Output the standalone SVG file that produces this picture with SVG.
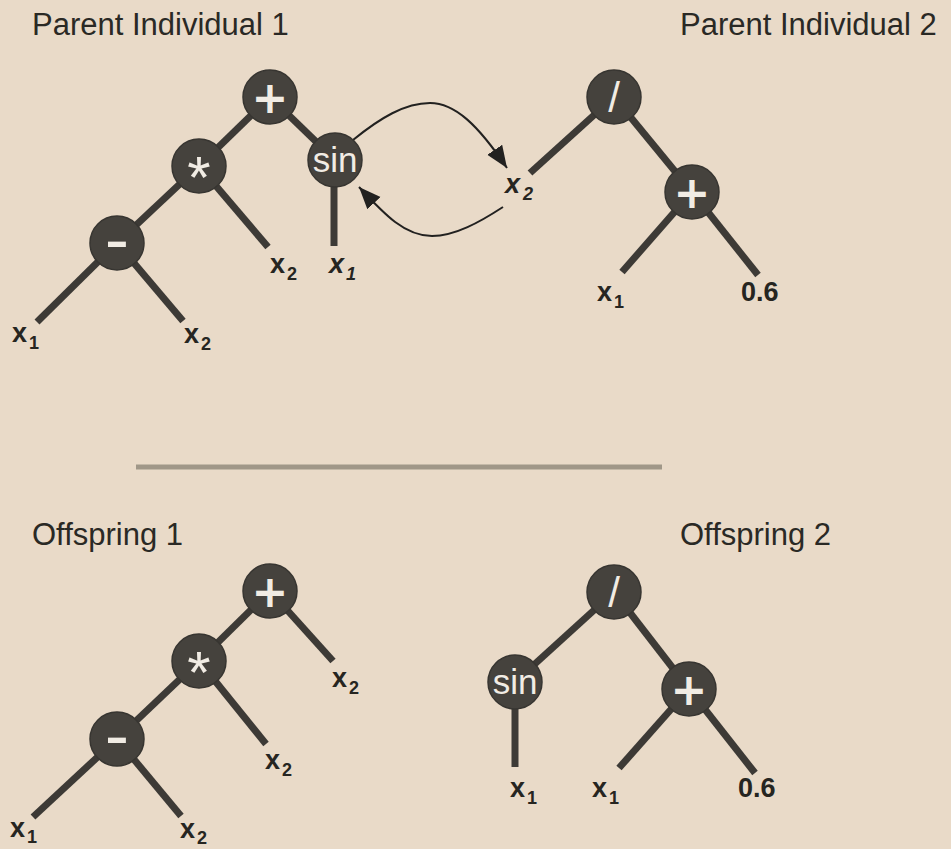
<svg xmlns="http://www.w3.org/2000/svg" width="951" height="849" viewBox="0 0 951 849">
  <defs>
    <marker id="arrowhead" markerUnits="userSpaceOnUse" markerWidth="24" markerHeight="20" refX="22" refY="9" orient="auto">
      <path d="M0,0 L22,9 L0,18 z" fill="#222120"/>
    </marker>
  </defs>
  <style>
    .title { font-family: "Liberation Sans", Arial, sans-serif; font-size: 31px; fill: #2a2925; }
    .edge { stroke: #3d3a36; stroke-width: 7; stroke-linecap: butt; fill: none; }
    .swap { stroke: #222120; stroke-width: 2; fill: none; marker-end: url(#arrowhead); }
    .divider { stroke: #a09788; stroke-width: 5; }
    .op { fill: #45423d; stroke: #373531; stroke-width: 1.5; }
    .sym { fill: #f1ece4; text-anchor: middle; }
    .plus { font-family: "DejaVu Sans", sans-serif; font-weight: bold; font-size: 44px; }
    .star { font-family: "Liberation Sans", Arial, sans-serif; font-size: 60px; }
    .slash { font-family: "Liberation Sans", Arial, sans-serif; font-size: 42px; }
    .minus { font-family: "Liberation Sans", Arial, sans-serif; font-weight: bold; font-size: 44px; }
    .sin { font-family: "Liberation Sans", Arial, sans-serif; font-size: 35px; }
    .leaf { font-family: "Liberation Sans", Arial, sans-serif; font-weight: bold; font-size: 27px; fill: #262521; }
    .leaf .sub { font-size: 18px; }
    .ital { font-style: italic; }
  </style>

  <rect width="951" height="849" fill="#e9dac8"/>

  <!-- section titles -->
  <text class="title" x="32" y="35">Parent Individual 1</text>
  <text class="title" x="680" y="35">Parent Individual 2</text>
  <text class="title" x="32" y="545">Offspring 1</text>
  <text class="title" x="680" y="545">Offspring 2</text>

  <!-- separator between parents and offspring -->
  <line class="divider" x1="136" y1="467" x2="662" y2="467"/>

  <!-- tree branches and swap arrows -->
  <g id="connectors">
    <!-- parent 1 -->
    <line class="edge" x1="270" y1="97" x2="199" y2="166"/>
    <line class="edge" x1="270" y1="97" x2="335" y2="160"/>
    <line class="edge" x1="199" y1="166" x2="117" y2="243"/>
    <line class="edge" x1="199" y1="166" x2="268" y2="247"/>
    <line class="edge" x1="334" y1="160" x2="334" y2="246"/>
    <line class="edge" x1="117" y1="243" x2="37" y2="322"/>
    <line class="edge" x1="117" y1="243" x2="183" y2="321"/>
    <!-- parent 2 -->
    <line class="edge" x1="614" y1="97" x2="530" y2="173"/>
    <line class="edge" x1="614" y1="97" x2="692" y2="192"/>
    <line class="edge" x1="692" y1="192" x2="622" y2="272"/>
    <line class="edge" x1="692" y1="192" x2="758" y2="275"/>
    <!-- crossover swap -->
    <path class="swap" d="M353,140 C380,118 405,103 430,103 C455,103 478,125 507,168"/>
    <path class="swap" d="M503,207 C480,222 455,236 432,236 C405,236 385,215 359,187"/>
    <!-- offspring 1 -->
    <line class="edge" x1="270" y1="591" x2="199" y2="661"/>
    <line class="edge" x1="270" y1="591" x2="333" y2="661"/>
    <line class="edge" x1="199" y1="661" x2="117" y2="739"/>
    <line class="edge" x1="199" y1="661" x2="266" y2="744"/>
    <line class="edge" x1="117" y1="739" x2="33" y2="817"/>
    <line class="edge" x1="117" y1="739" x2="181" y2="816"/>
    <!-- offspring 2 -->
    <line class="edge" x1="614" y1="592" x2="515" y2="682"/>
    <line class="edge" x1="614" y1="592" x2="689" y2="689"/>
    <line class="edge" x1="515" y1="682" x2="515" y2="767"/>
    <line class="edge" x1="689" y1="689" x2="619" y2="768"/>
    <line class="edge" x1="689" y1="689" x2="755" y2="773"/>
  </g>

  <!-- parent 1 nodes -->
  <g id="p1-plus">
    <circle class="op" cx="270" cy="97" r="27"/>
    <text class="sym plus" x="270" y="113">+</text>
  </g>
  <g id="p1-times">
    <circle class="op" cx="199" cy="166" r="27"/>
    <text class="sym star" x="199" y="198">*</text>
  </g>
  <g id="p1-sin">
    <circle class="op" cx="335" cy="160" r="27"/>
    <text class="sym sin" x="335" y="172">sin</text>
  </g>
  <g id="p1-minus">
    <circle class="op" cx="117" cy="243" r="27"/>
    <text class="sym minus" transform="translate(117,243) scale(1.6,1)" x="0" y="13">-</text>
  </g>
  <g id="p1-x1a"><text class="leaf" x="12" y="342">x<tspan class="sub" dx="2" dy="7">1</tspan></text></g>
  <g id="p1-x2a"><text class="leaf" x="184" y="343">x<tspan class="sub" dx="2" dy="7">2</tspan></text></g>
  <g id="p1-x2b"><text class="leaf" x="270" y="273">x<tspan class="sub" dx="2" dy="7">2</tspan></text></g>
  <g id="p1-x1b"><text class="leaf ital" x="329" y="273">x<tspan class="sub" dx="2" dy="7">1</tspan></text></g>

  <!-- parent 2 nodes -->
  <g id="p2-div">
    <circle class="op" cx="614" cy="97" r="27"/>
    <text class="sym slash" x="614" y="112">/</text>
  </g>
  <g id="p2-plus">
    <circle class="op" cx="692" cy="192" r="27"/>
    <text class="sym plus" x="692" y="208">+</text>
  </g>
  <g id="p2-x2"><text class="leaf ital" x="505" y="193">x<tspan class="sub" dx="3" dy="7">2</tspan></text></g>
  <g id="p2-x1"><text class="leaf" x="597" y="301">x<tspan class="sub" dx="2" dy="7">1</tspan></text></g>
  <g id="p2-c06"><text class="leaf" x="741" y="301">0.6</text></g>

  <!-- offspring 1 nodes -->
  <g id="o1-plus">
    <circle class="op" cx="270" cy="591" r="27"/>
    <text class="sym plus" x="270" y="607">+</text>
  </g>
  <g id="o1-times">
    <circle class="op" cx="199" cy="661" r="27"/>
    <text class="sym star" x="199" y="693">*</text>
  </g>
  <g id="o1-minus">
    <circle class="op" cx="117" cy="739" r="27"/>
    <text class="sym minus" transform="translate(117,739) scale(1.6,1)" x="0" y="13">-</text>
  </g>
  <g id="o1-x2a"><text class="leaf" x="332" y="687">x<tspan class="sub" dx="2" dy="7">2</tspan></text></g>
  <g id="o1-x2b"><text class="leaf" x="265" y="769">x<tspan class="sub" dx="2" dy="7">2</tspan></text></g>
  <g id="o1-x1"><text class="leaf" x="10" y="837">x<tspan class="sub" dx="2" dy="6">1</tspan></text></g>
  <g id="o1-x2c"><text class="leaf" x="180" y="838">x<tspan class="sub" dx="2" dy="6">2</tspan></text></g>

  <!-- offspring 2 nodes -->
  <g id="o2-div">
    <circle class="op" cx="614" cy="592" r="27"/>
    <text class="sym slash" x="614" y="607">/</text>
  </g>
  <g id="o2-sin">
    <circle class="op" cx="515" cy="682" r="27"/>
    <text class="sym sin" x="515" y="694">sin</text>
  </g>
  <g id="o2-plus">
    <circle class="op" cx="689" cy="689" r="27"/>
    <text class="sym plus" x="689" y="705">+</text>
  </g>
  <g id="o2-x1a"><text class="leaf" x="510" y="797">x<tspan class="sub" dx="2" dy="7">1</tspan></text></g>
  <g id="o2-x1b"><text class="leaf" x="592" y="797">x<tspan class="sub" dx="2" dy="7">1</tspan></text></g>
  <g id="o2-c06"><text class="leaf" x="738" y="797">0.6</text></g>
</svg>
